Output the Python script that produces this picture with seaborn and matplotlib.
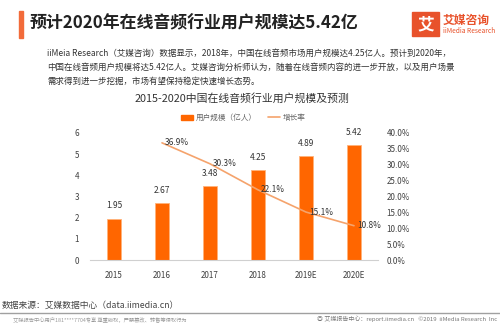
import matplotlib
matplotlib.use("Agg")
import matplotlib.pyplot as plt
import seaborn as sns
import pandas as pd
from matplotlib.patches import Rectangle, Patch
from matplotlib.lines import Line2D

years = ["2015", "2016", "2017", "2018", "2019E", "2020E"]
users = [1.95, 2.67, 3.48, 4.25, 4.89, 5.42]
growth = [None, 36.9, 30.3, 22.1, 15.1, 10.8]
left_ticks = [0, 1, 2, 3, 4, 5, 6]
right_ticks = [0, 5, 10, 15, 20, 25, 30, 35, 40]

sns.set_theme(style="white")
plt.rcParams['font.family'] = ['Noto Sans CJK SC', 'DejaVu Sans']

W, H = 500, 323
fig = plt.figure(figsize=(W / 100, H / 100), dpi=100)
fig.patch.set_facecolor("white")

def fx(px):
    return px / W

def fy(py):
    return 1 - py / H

# header
fig.patches.append(Rectangle((fx(19), fy(38)), fx(4), 27 / H, transform=fig.transFigure,
                             color="#F26B3A", zorder=3))
fig.text(fx(30), fy(23), "预计2020年在线音频行业用户规模达5.42亿", fontsize=12.2,
         fontweight="bold", color="#222222", va="center", ha="left")
# logo
fig.patches.append(Rectangle((fx(412), fy(36)), fx(27), 24 / H, transform=fig.transFigure,
                             color="#E8522B", zorder=3))
fig.text(fx(425.5), fy(24), "艾", fontsize=12, fontweight="bold", color="white",
         ha="center", va="center", zorder=4)
fig.text(fx(443), fy(20), "艾媒咨询", fontsize=8.5, fontweight="bold", color="#E8522B",
         ha="left", va="center")
fig.text(fx(443), fy(31), "iiMedia Research", fontsize=4.8, color="#E8522B",
         ha="left", va="center")

para = [
    "iiMeia Research（艾媒咨询）数据显示，2018年，中国在线音频市场用户规模达4.25亿人。预计到2020年，",
    "中国在线音频用户规模将达5.42亿人。艾媒咨询分析师认为，随着在线音频内容的进一步开放，以及用户场景",
    "需求得到进一步挖掘，市场有望保持稳定快速增长态势。",
]
for i, line in enumerate(para):
    fig.text(fx(47), fy(53 + 14 * i), line, fontsize=6.1, color="#333333", ha="left", va="center")

fig.text(fx(242), fy(98), "2015-2020中国在线音频行业用户规模及预测", fontsize=7.8,
         color="#333333", ha="center", va="center")

# main axes
ax = fig.add_axes([fx(90), fy(260), fx(288), 127 / H])
df = pd.DataFrame({"year": years, "users": users, "growth": growth})
df["idx"] = range(len(years))
sns.barplot(data=df, x="year", y="users", color="#FF6600", width=0.31, ax=ax,
            edgecolor="#FFB27A", linewidth=0.6, saturation=1)
ax.set_ylim(0, 6)
ax.set_xlim(-0.5, len(years) - 0.5)
ax.set_yticks(left_ticks)
ax.set_yticklabels([str(t) for t in left_ticks])
ax.set_xlabel("")
ax.set_ylabel("")
for s in ["top", "right", "left"]:
    ax.spines[s].set_visible(False)
ax.spines["bottom"].set_color("#D0D0D0")
ax.spines["bottom"].set_linewidth(0.8)
ax.tick_params(axis="both", length=0, labelsize=5.8, colors="#404040")
ax.tick_params(axis="x", pad=8)
ax.tick_params(axis="y", pad=8)
for i, v in enumerate(users):
    ax.annotate(f"{v:.2f}", (i, v), xytext=(0, 6), textcoords="offset points",
                ha="center", va="bottom", fontsize=6, color="#333333")

ax2 = ax.twinx()
dfl = df.dropna(subset=["growth"])
sns.lineplot(data=dfl, x="idx", y="growth", ax=ax2, color="#F5A36C", linewidth=1.2)
ax2.set_ylim(0, 40)
ax2.set_xlim(-0.5, len(years) - 0.5)
ax2.set_yticks(right_ticks)
ax2.set_yticklabels([f"{t:.1f}%" for t in right_ticks])
ax2.set_xlabel("")
ax2.set_ylabel("")
for s in ["top", "right", "left", "bottom"]:
    ax2.spines[s].set_visible(False)
ax2.tick_params(axis="y", length=0, labelsize=5.8, colors="#404040", pad=6)
for i, g in zip(dfl["idx"], dfl["growth"]):
    ax2.annotate(f"{g:.1f}%", (i, g), xytext=(2, 0), textcoords="offset points",
                 ha="left", va="center", fontsize=6, color="#333333")

handles = [Patch(facecolor="#FF6600", edgecolor="#FF6600"),
           Line2D([0], [0], color="#F5A36C", linewidth=1.2)]
fig.legend(handles, ["用户规模（亿人）", "增长率"], loc="center", bbox_to_anchor=(fx(243), fy(118)),
           ncol=2, frameon=False, fontsize=5.5, handlelength=1.6, handleheight=0.6,
           columnspacing=1.5, handletextpad=0.3, labelcolor="#666666")

# footer
fig.text(fx(2), fy(305), "数据来源：艾媒数据中心（data.iimedia.cn）", fontsize=6.3,
         color="#444444", ha="left", va="center")
fig.add_artist(Line2D([0, 1], [fy(313), fy(313)], transform=fig.transFigure,
                      color="#A0A0A0", linewidth=1.0))
fig.text(fx(13), fy(319), "艾媒报告中心用户181****7704专享 尊重版权，严禁篡改、转售等侵权行为",
         fontsize=3.8, color="#999999", ha="left", va="center")
fig.text(fx(497), fy(319), "◎ 艾媒报告中心：report.iimedia.cn   ©2019  iiMedia Research  Inc",
         fontsize=4.3, color="#777777", ha="right", va="center")

fig.savefig("out.png", dpi=100, facecolor="white")
